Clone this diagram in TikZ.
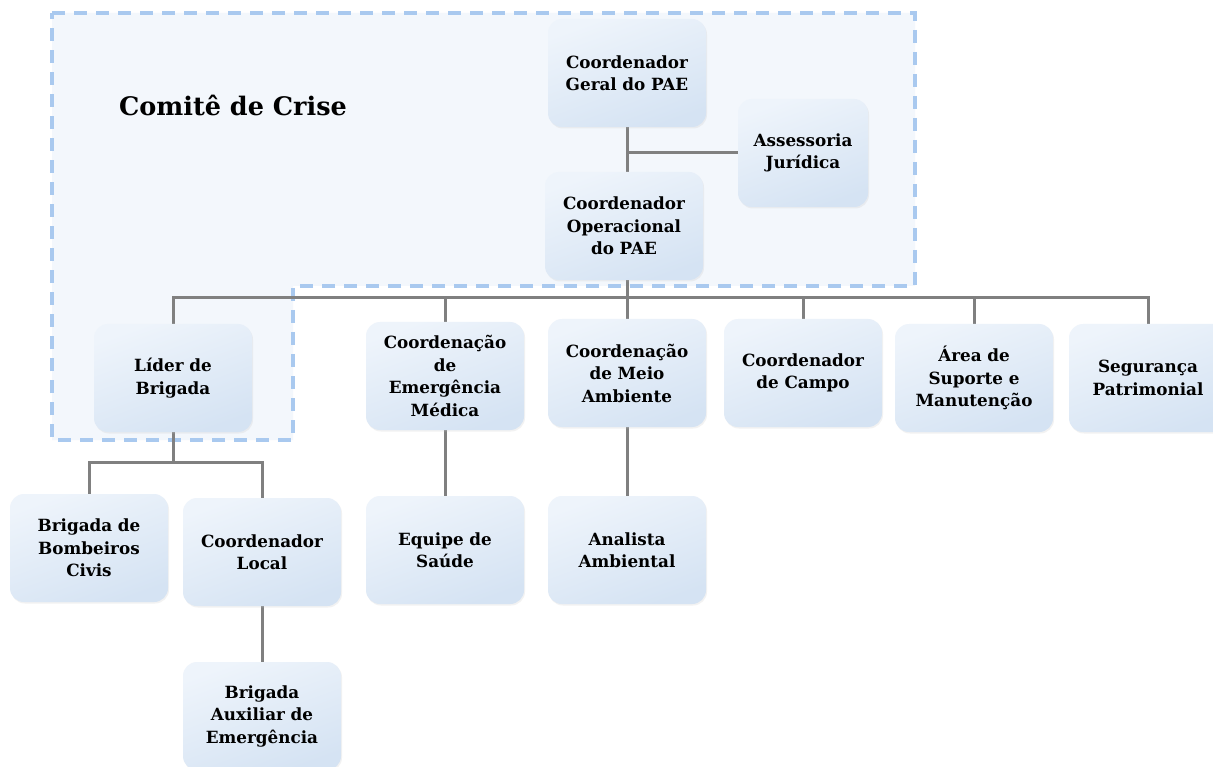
\documentclass[tikz,border=0pt]{standalone}
\usepackage{fontspec}
\setmainfont{DejaVu Serif}
\usetikzlibrary{shadows}
\pgfdeclarelayer{regionlayer}
\pgfdeclarelayer{linelayer}
\pgfsetlayers{regionlayer,linelayer,main}
\definecolor{boxL}{HTML}{EEF4FB}
\definecolor{boxR}{HTML}{D5E3F3}
\definecolor{regionFill}{HTML}{F3F7FC}
\definecolor{regionLine}{HTML}{A9C9EF}
\definecolor{lineGray}{HTML}{808080}
\tikzset{
  box/.style={rounded corners=14pt, minimum width=158pt, minimum height=108pt,
    text width=154pt, align=center, inner sep=2pt,
    font=\fontsize{16.8}{22.5}\selectfont\bfseries,
    top color=boxL, bottom color=boxR, shading angle=20,
    general shadow={fill=black!25, opacity=0.2, shadow xshift=1pt, shadow yshift=-1.5pt}},
  conn/.style={draw=lineGray, line width=3pt},
  region/.style={draw=regionLine, fill=regionFill, line width=3.5pt, dash pattern=on 13pt off 9pt},
  title/.style={font=\fontsize{25.5}{31}\selectfont\bfseries}
}
\begin{document}
\begin{tikzpicture}[x=1pt, y=-1pt]
\useasboundingbox (0,0) rectangle (1213,767);
\begin{pgfonlayer}{regionlayer}
\fill[white] (0,0) rectangle (1213,767);
\draw[region] (52,13) -- (915,13) -- (915,286) -- (293,286) -- (293,440) -- (52,440) -- cycle;
\end{pgfonlayer}
\node[title] (titulo) at (233,105) {Comitê de Crise};

% nodes
\node[box] (geral) at (627,73) {Coordenador\\Geral do PAE};
\node[box, minimum width=130pt, text width=126pt] (assess) at (803,153) {Assessoria\\Jurídica};
\node[box] (oper) at (624,226) {Coordenador\\Operacional\\do PAE};

\node[box] (lider) at (173,378) {Líder de\\Brigada};
\node[box] (med) at (445,376) {Coordenação\\de\\Emergência\\Médica};
\node[box] (meio) at (627,373) {Coordenação\\de Meio\\Ambiente};
\node[box] (campo) at (803,373) {Coordenador\\de Campo};
\node[box] (suporte) at (974,378) {Área de\\Suporte e\\Manutenção};
\node[box] (seg) at (1148,378) {Segurança\\Patrimonial};

\node[box] (bomb) at (89,548) {Brigada de\\Bombeiros\\Civis};
\node[box] (local) at (262,552) {Coordenador\\Local};
\node[box] (saude) at (445,550) {Equipe de\\Saúde};
\node[box] (analista) at (627,550) {Analista\\Ambiental};
\node[box] (aux) at (262,716) {Brigada\\Auxiliar de\\Emergência};

\coordinate (bus) at (627,298);
\coordinate (lb) at (173,462);

\begin{pgfonlayer}{linelayer}
\draw[conn] (geral.south) -- (geral.south |- oper.north);
\draw[conn] (assess.west) -- (assess.west -| geral.south);
\draw[conn] (oper.south -| bus) -- (meio.north);
\draw[conn] (lider.north) |- (bus) -| (seg.north);
\draw[conn] (med.north) -- (med.north |- bus);
\draw[conn] (campo.north) -- (campo.north |- bus);
\draw[conn] (suporte.north) -- (suporte.north |- bus);
\draw[conn] (lider.south) -- (lb);
\draw[conn] (bomb.north) |- (lb) -| (local.north);
\draw[conn] (med.south) -- (saude.north);
\draw[conn] (meio.south) -- (analista.north);
\draw[conn] (local.south) -- (aux.north);
\end{pgfonlayer}
\end{tikzpicture}
\end{document}
